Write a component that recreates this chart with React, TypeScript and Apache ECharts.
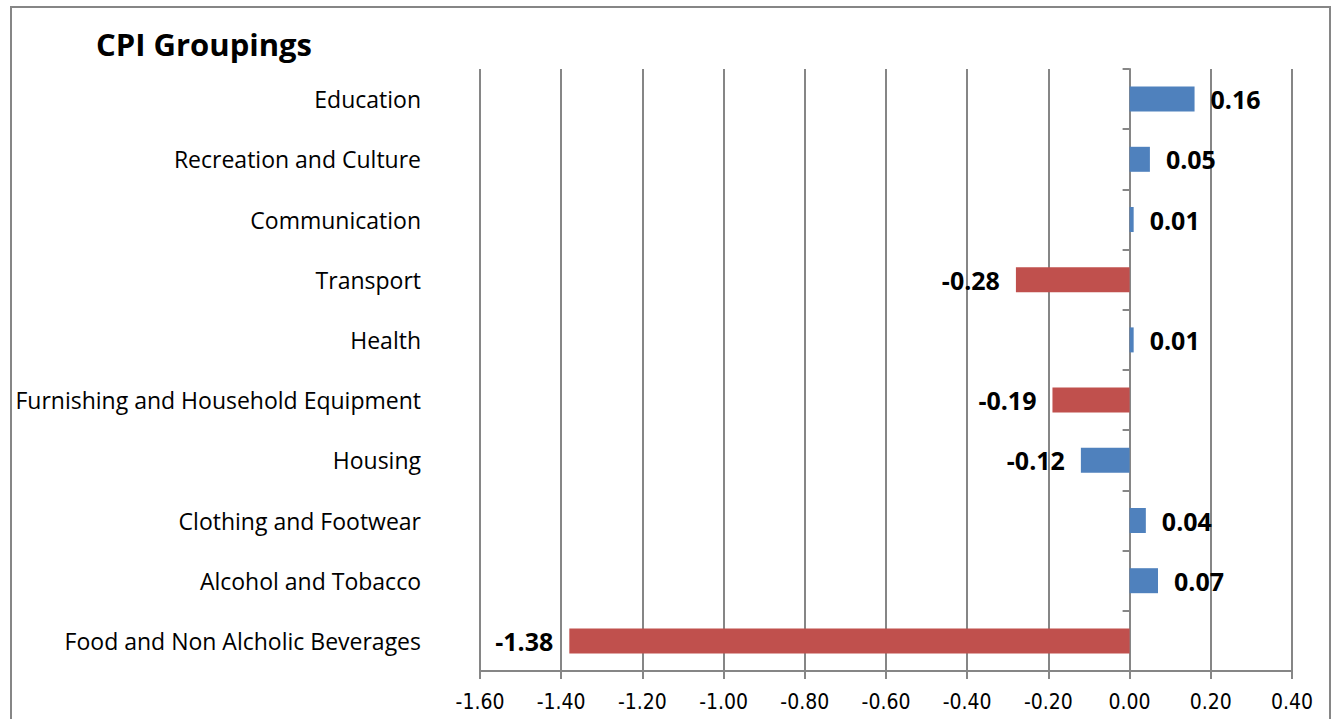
import React, { useEffect, useRef } from "react";
import * as echarts from "echarts";

const categories = [
  "Food and Non Alcholic Beverages",
  "Alcohol and Tobacco",
  "Clothing and Footwear",
  "Housing",
  "Furnishing and Household Equipment",
  "Health",
  "Transport",
  "Communication",
  "Recreation and Culture",
  "Education",
];
const values = [-1.38, 0.07, 0.04, -0.12, -0.19, 0.01, -0.28, 0.01, 0.05, 0.16];
const redCategories = ["Food and Non Alcholic Beverages", "Furnishing and Household Equipment", "Transport"];
const xMin = -1.6;
const xMax = 0.4;
const xStep = 0.2;
const title = "CPI Groupings";

const BLUE = "#4F81BD";
const RED = "#C0504D";
const FONT = "'Open Sans', 'Noto Sans', sans-serif";
const GRID_LEFT = 480;
const GRID_RIGHT = 43;
const WIDTH = 1335;

export default function App() {
  const ref = useRef<HTMLDivElement>(null);
  useEffect(() => {
    if (!ref.current) return;
    const chart = echarts.init(ref.current, undefined, { renderer: "svg" });
    const plotW = WIDTH - GRID_LEFT - GRID_RIGHT;
    const zeroOffset = -((0 - xMin) / (xMax - xMin)) * plotW;
    const data = values.map((v, i) => ({
      value: v,
      itemStyle: { color: redCategories.includes(categories[i]) ? RED : BLUE },
      label: {
        show: true,
        position: v >= 0 ? "right" : "left",
        distance: 16,
        formatter: () => v.toFixed(2),
        fontFamily: FONT,
        fontWeight: "bold",
        fontSize: 25,
        color: "#000",
      },
    }));
    chart.setOption({
      animation: false,
      backgroundColor: "#fff",
      title: {
        text: title,
        left: 91,
        top: 23,
        textStyle: { fontFamily: FONT, fontWeight: "bold", fontSize: 31, color: "#000" },
      },
      graphic: [
        {
          type: "rect",
          shape: { x: 11, y: 7, width: 1319, height: 730 },
          style: { fill: "none", stroke: "#868686", lineWidth: 2 },
          silent: true,
        },
      ],
      grid: { left: GRID_LEFT, right: GRID_RIGHT, top: 69, bottom: 48, containLabel: false },
      xAxis: {
        type: "value",
        min: xMin,
        max: xMax,
        interval: xStep,
        axisLine: { show: true, lineStyle: { color: "#868686", width: 2 } },
        axisTick: { show: true, length: 8, lineStyle: { color: "#868686", width: 2 } },
        splitLine: { show: true, lineStyle: { color: "#868686", width: 2 } },
        axisLabel: {
          margin: 20,
          fontFamily: "'Liberation Sans Narrow', 'DejaVu Sans Condensed', sans-serif",
          fontSize: 21,
          color: "#000",
          formatter: (v: number) => v.toFixed(2),
        },
      },
      yAxis: [
        {
          type: "category",
          data: categories,
          position: "left",
          axisLine: { show: false },
          axisTick: { show: false },
          splitLine: { show: false },
          axisLabel: { margin: 59, fontFamily: FONT, fontSize: 23, color: "#000" },
        },
        {
          type: "category",
          data: categories,
          position: "left",
          offset: zeroOffset,
          axisLine: { show: true, onZero: false, lineStyle: { color: "#868686", width: 2 } },
          axisTick: { show: true, length: 7, lineStyle: { color: "#868686", width: 2 } },
          axisLabel: { show: false },
          splitLine: { show: false },
        },
      ],
      series: [
        {
          type: "bar",
          yAxisIndex: 0,
          data,
          barWidth: 25,
        },
      ],
    });
    return () => chart.dispose();
  }, []);
  return (
    <div
      ref={ref}
      style={{ position: "fixed", left: 0, top: 0, width: WIDTH, height: 719 }}
    />
  );
}
